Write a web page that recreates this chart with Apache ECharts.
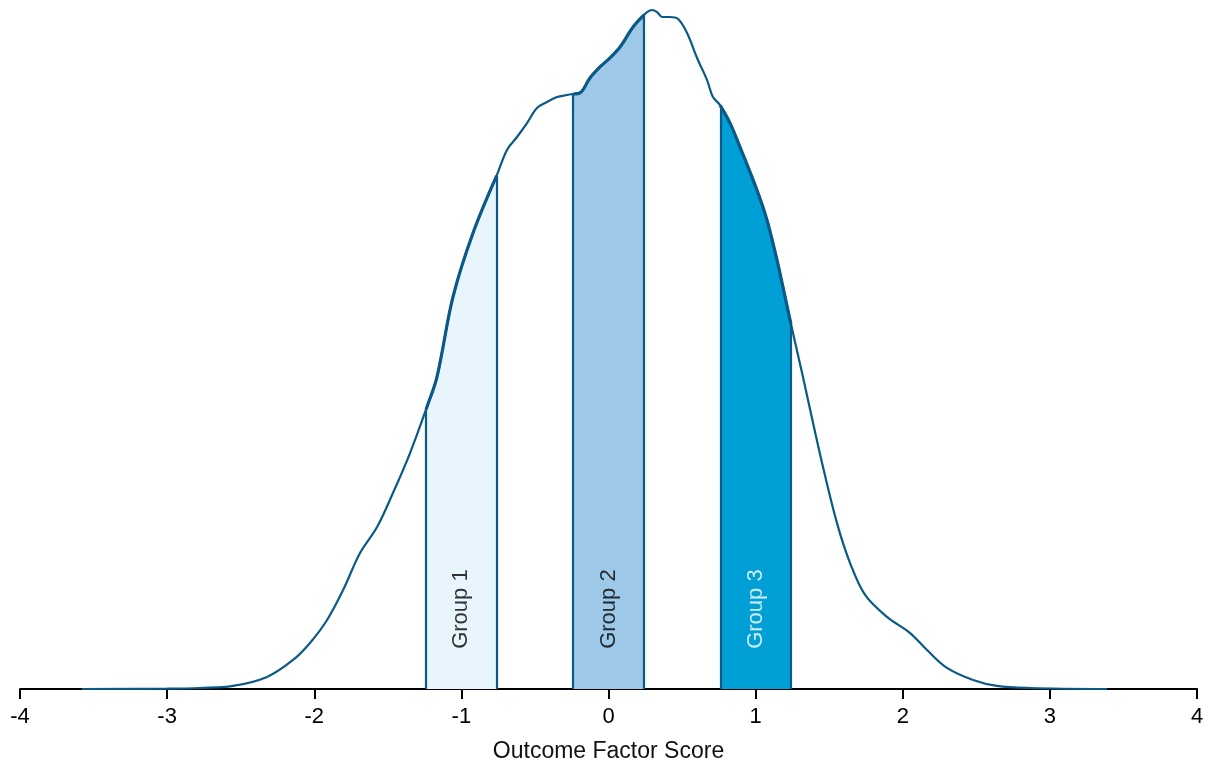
<!DOCTYPE html>
<html>
<head>
<meta charset="utf-8">
<script src="https://cdn.jsdelivr.net/npm/echarts@6/dist/echarts.min.js"></script>
<style>html,body{margin:0;padding:0;background:#fff}#c{width:1207px;height:766px}</style>
</head>
<body>
<div id="c"></div>
<script>
// Density curve (x = outcome factor score, y = density)
const scoreX = [-3.58,-3.0,-2.777,-2.552,-2.321,-2.144,-2.029,-1.913,-1.804,-1.689,-1.573,-1.465,-1.349,-1.234,-1.166,-1.057,-0.921,-0.758,-0.690,-0.622,-0.554,-0.486,-0.418,-0.350,-0.282,-0.241,-0.194,-0.126,-0.058,0.010,0.078,0.167,0.248,0.296,0.330,0.364,0.418,0.473,0.534,0.602,0.670,0.710,0.758,0.826,0.894,1.009,1.077,1.145,1.234,1.322,1.356,1.458,1.553,1.642,1.744,1.893,2.050,2.165,2.301,2.478,2.641,2.865,3.388];
const densityY = [0,0.0002,0.0006,0.0018,0.0071,0.0171,0.0271,0.0406,0.0582,0.0800,0.0953,0.1153,0.1388,0.1659,0.1835,0.2306,0.2682,0.3024,0.3171,0.3247,0.3329,0.3418,0.3453,0.3482,0.3494,0.3500,0.3506,0.3594,0.3659,0.3712,0.3776,0.3894,0.3971,0.3994,0.3982,0.3953,0.3953,0.3941,0.3859,0.3712,0.3582,0.3482,0.3435,0.3329,0.3188,0.2935,0.2759,0.2524,0.2171,0.1835,0.1700,0.1306,0.0976,0.0741,0.0553,0.0424,0.0329,0.0229,0.0124,0.0053,0.0018,0.0006,0];
// Groups
const groupNames = ['Group 1','Group 2','Group 3'];
const groupLow = [-1.24,-0.24,0.76];
const groupHigh = [-0.76,0.24,1.24];
const groupLabelY = [0.047,0.047,0.047];
const groupFill = ['#e8f5fd','#9dc8e8','#009fd6'];
const groupText = ['#000000','#000000','#ffffff'];
const tickValues = [-4,-3,-2,-1,0,1,2,3,4];

const lineColor = '#0b5987';
const FONT = 'Liberation Sans, Arial, sans-serif';
const SMOOTH = 0.35;
const curve = scoreX.map((x,i)=>[x,densityY[i]]);

function yAt(x){
  for(let i=0;i<scoreX.length-1;i++){
    if(x>=scoreX[i] && x<=scoreX[i+1]){
      const t=(x-scoreX[i])/(scoreX[i+1]-scoreX[i]);
      return densityY[i]+t*(densityY[i+1]-densityY[i]);
    }
  }
  return 0;
}
function bandTop(lo,hi){
  const pts=[[lo,yAt(lo)]];
  scoreX.forEach((x,i)=>{ if(x>lo+0.005 && x<hi-0.005) pts.push([x,densityY[i]]); });
  pts.push([hi,yAt(hi)]);
  return pts;
}

const series = [];
groupNames.forEach((g,k)=>{
  const lo=groupLow[k], hi=groupHigh[k];
  series.push({
    type:'line', data: bandTop(lo,hi), symbol:'none', smooth:SMOOTH,
    lineStyle:{color:lineColor,width:3.2}, areaStyle:{color:groupFill[k],opacity:1,origin:'start'},
    z:2, animation:false,
    markLine:{
      silent:true, symbol:['none','none'], animation:false,
      lineStyle:{color:lineColor,width:2.2,type:'solid'}, label:{show:false},
      data:[
        [{coord:[lo,0]},{coord:[lo,yAt(lo)]}],
        [{coord:[hi,0]},{coord:[hi,yAt(hi)]}]
      ]
    }
  });
});
series.push({
  type:'line', data:curve, symbol:'none', smooth:SMOOTH,
  lineStyle:{color:lineColor,width:2.2}, z:3, animation:false
});
series.push({
  type:'scatter', symbolSize:0, z:4, animation:false,
  data: groupNames.map((g,k)=>({
    value:[(groupLow[k]+groupHigh[k])/2, groupLabelY[k]], name:g,
    label:{color:groupText[k]}
  })),
  label:{show:true, position:'inside', rotate:90, formatter:p=>p.name,
    fontSize:22, fontFamily:FONT, textBorderWidth:0}
});

const chart = echarts.init(document.getElementById('c'));
chart.setOption({
  animation:false,
  grid:{left:20,right:10,top:9,bottom:77,containLabel:false,outerBoundsMode:'none'},
  xAxis:{
    type:'value', min:tickValues[0], max:tickValues[tickValues.length-1], interval:1,
    name:'Outcome Factor Score', nameLocation:'middle', nameGap:51,
    nameTextStyle:{fontSize:23,color:'#111',fontFamily:FONT},
    axisLine:{show:true,onZero:false,lineStyle:{color:'#000',width:2}},
    axisTick:{show:true,length:10,lineStyle:{color:'#000',width:2}},
    axisLabel:{fontSize:22,color:'#000',margin:17,fontFamily:FONT},
    splitLine:{show:false}
  },
  yAxis:{type:'value',min:0,max:0.4,show:false,splitLine:{show:false}},
  series:series
});
</script>
</body>
</html>
